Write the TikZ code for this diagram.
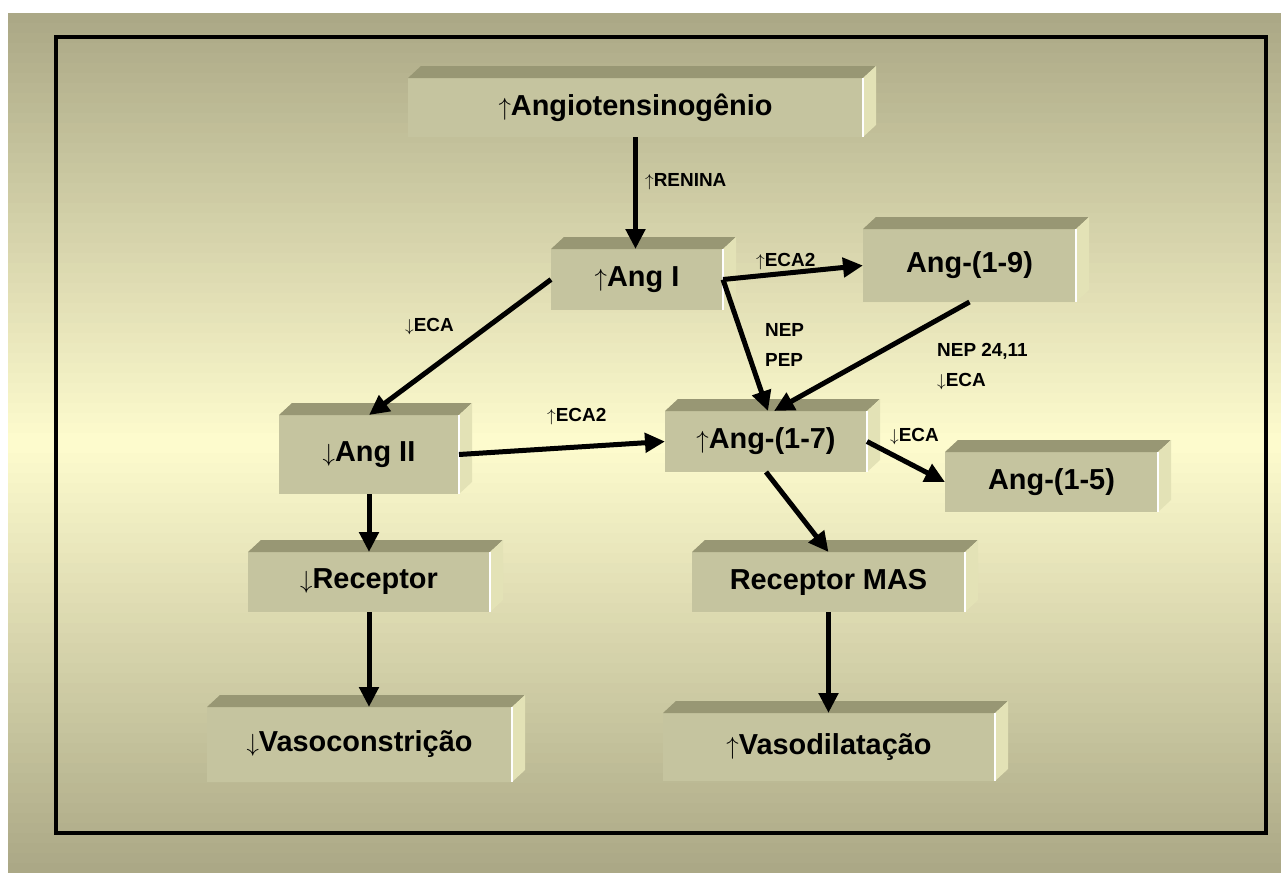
\documentclass[tikz,border=0pt]{standalone}
\usepackage{fontspec}
\setmainfont{Liberation Sans}
\usepackage{tikz}
\usetikzlibrary{calc, positioning}
\usetikzlibrary{arrows.meta}
\definecolor{mybgedge}{HTML}{AAA785}
\definecolor{mybgmid}{HTML}{FEFCCE}
\definecolor{myfront}{HTML}{C5C49F}
\definecolor{mytop}{HTML}{989774}
\definecolor{myside}{HTML}{E3E2B6}
\tikzset{
  caixa/.style={fill=myfront, inner sep=0pt, outer sep=0pt, font=\fontsize{29}{34}\selectfont\bfseries},
  rotulo/.style={anchor=west, inner sep=0pt, align=left, font=\fontsize{19}{30}\selectfont\bfseries},
  seta/.style={line width=5bp, -{Triangle[length=20bp, width=19bp]}}
}

\begin{document}
\begin{tikzpicture}[x=1bp, y=-1bp]
				\useasboundingbox (0,0) rectangle (1281,873);
				\fill[white] (0,0) rectangle (1281,873);
				\foreach \i in {0,...,85}{
					\pgfmathsetmacro\t{100*(1-abs(10*\i+18-443)/430)}
					\fill[mybgmid!\t!mybgedge] (8,13+10*\i) rectangle (1281,23.5+10*\i);
				}
				\draw[line width=4bp] (56,37) rectangle (1266,833);
				\node[caixa, minimum width=455bp, minimum height=59bp] (angio) at (635.5,107.5) {$\uparrow$Angiotensinogênio};
				\node[caixa, minimum width=172bp, minimum height=61bp] (angI) at (637,279.5) {$\uparrow$Ang I};
				\node[caixa, minimum width=213bp, minimum height=73bp] (ang19) at (969.5,265.5) {Ang-(1-9)};
				\node[caixa, minimum width=180bp, minimum height=79bp] (angII) at (369,454.5) {$\downarrow$Ang II};
				\node[caixa, minimum width=202bp, minimum height=61bp] (ang17) at (766,441.5) {$\uparrow$Ang-(1-7)};
				\node[caixa, minimum width=213bp, minimum height=60bp] (ang15) at (1051.5,482) {Ang-(1-5)};
				\node[caixa, minimum width=242bp, minimum height=60bp] (rec) at (369,582) {$\downarrow$Receptor};
				\node[caixa, minimum width=305bp, minimum height=75bp] (vasoc) at (359.5,744.5) {$\downarrow$Vasoconstrição};
				\node[caixa, minimum width=273bp, minimum height=60bp] (mas) at (828.5,582) {Receptor MAS};
				\node[caixa, minimum width=332bp, minimum height=68bp] (vasod) at (829,747) {$\uparrow$Vasodilatação};
				\foreach \n in {angio,angI,ang19,angII,ang17,ang15,rec,vasoc,mas,vasod}{
					\fill[mytop] (\n.north west) -- ++(13,-12) -- ($(\n.north east)+(13,-12)$) -- (\n.north east) -- cycle;
					\fill[myside] (\n.north east) -- ++(13,-12) -- ($(\n.south east)+(13,-12)$) -- (\n.south east) -- cycle;
					\draw[white, line width=1.5bp] (\n.north east) -- (\n.south east);
				}
				\draw[seta] (angio.south) -- (angio.south |- angI.north);
				\draw[seta] (angI.east) -- (ang19.west);
				\draw[seta] (angI.east) -- ([xshift=2bp]ang17.north);
				\draw[seta] (ang19.south) -- ([xshift=8bp]ang17.north);
				\draw[seta] (angI.west) -- (angII.north);
				\draw[seta] (angII.east) -- (ang17.west);
				\draw[seta] (ang17.east) -- (ang15.west);
				\draw[seta] (ang17.south) -- (mas.north);
				\draw[seta] (angII.south) -- (rec.north);
				\draw[seta] (rec.south) -- (rec.south |- vasoc.north);
				\draw[seta] (mas.south) -- (mas.south |- vasod.north);
				\node[rotulo] (renina) at (645,182) {$\uparrow$RENINA};
				\node[rotulo] (ecadoisa) at (756,262) {$\uparrow$ECA2};
				\node[rotulo] (neppep) at (765,345) {NEP\\PEP};
				\node[rotulo] (nepeca) at (937,367) {NEP 24,11\\$\downarrow$ECA};
				\node[rotulo] (ecaa) at (405,327) {$\downarrow$ECA};
				\node[rotulo] (ecadoisb) at (547,417) {$\uparrow$ECA2};
				\node[rotulo] (ecab) at (890,437) {$\downarrow$ECA};
			\end{tikzpicture}
\end{document}
